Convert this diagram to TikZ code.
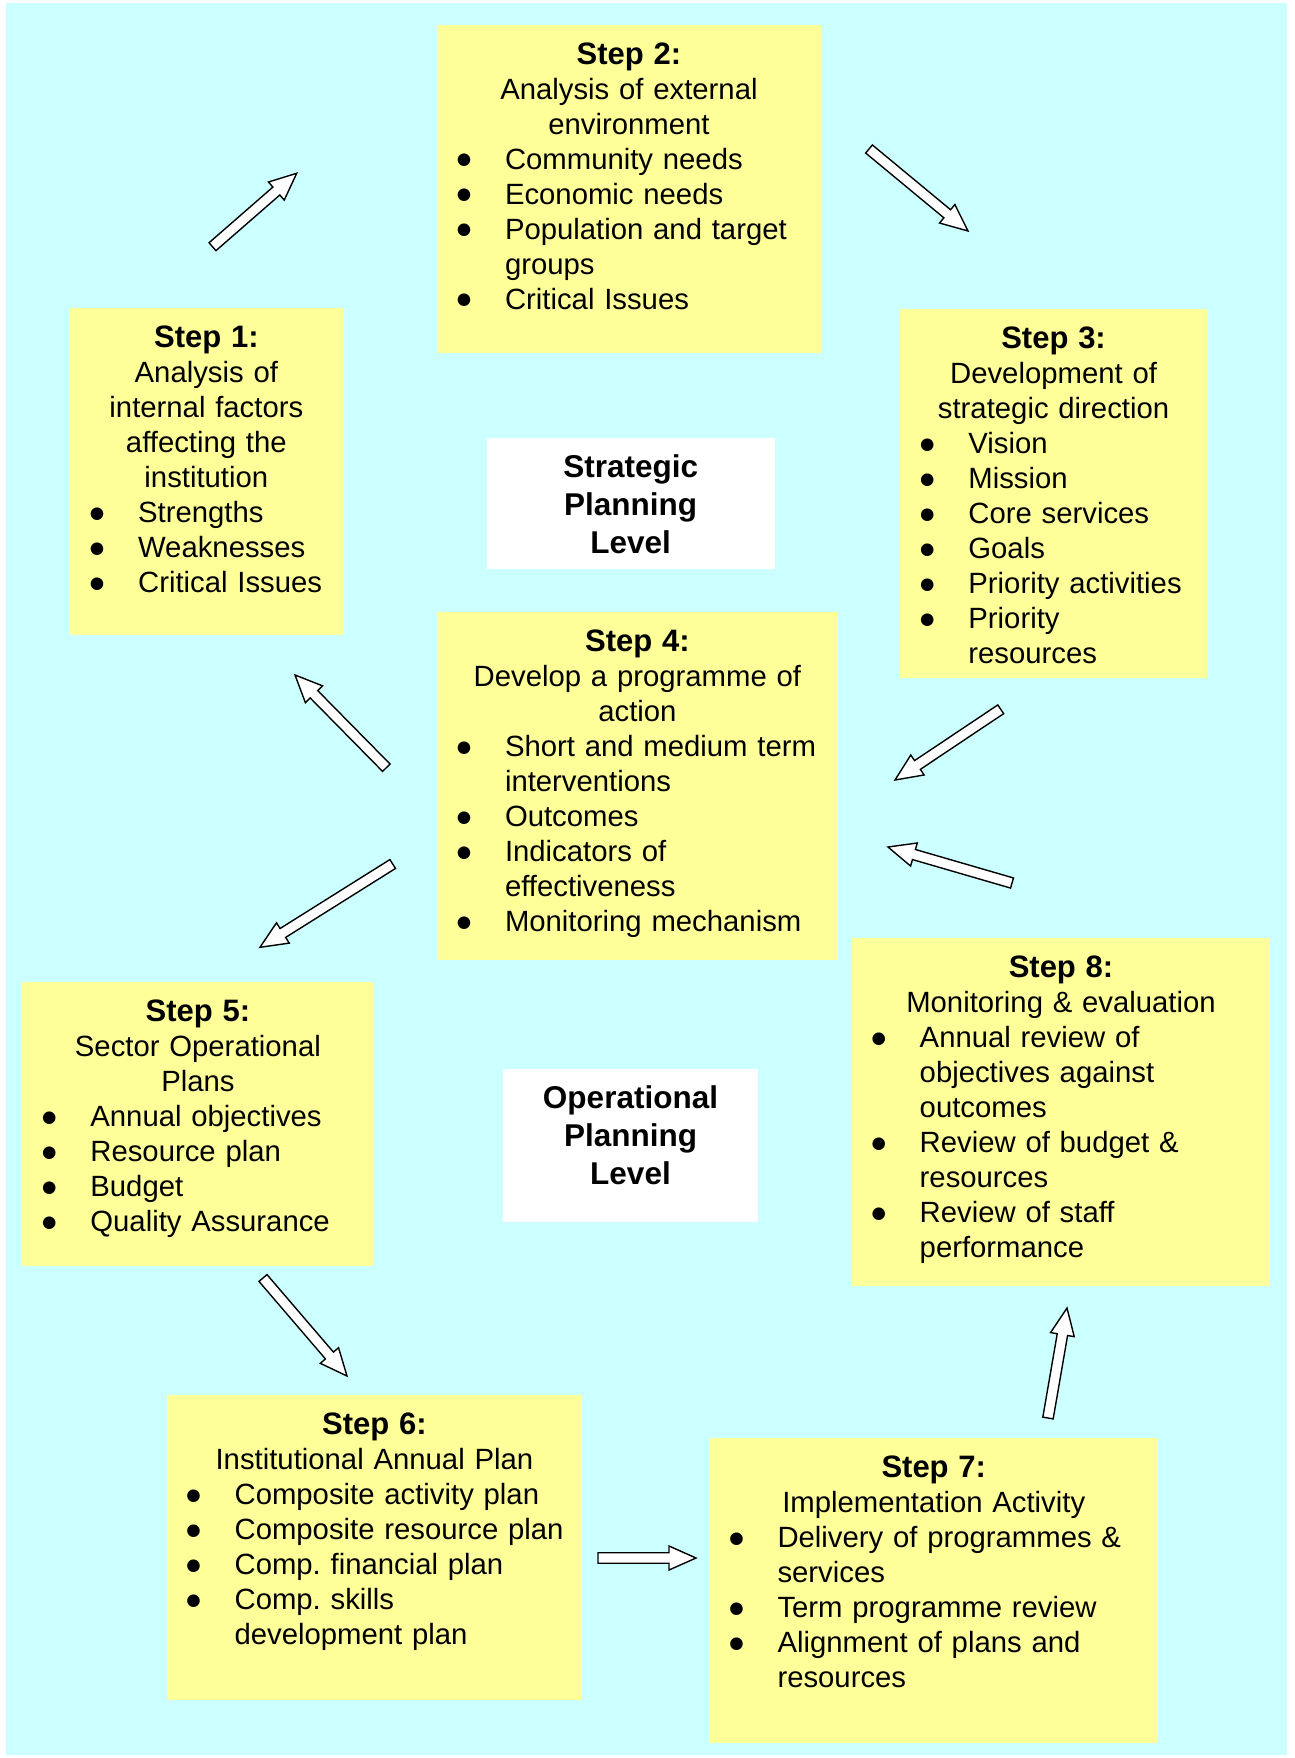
\documentclass[tikz,border=0pt]{standalone}
\usepackage{fontspec}
\setmainfont{Liberation Sans}
\newfontfamily\dejavu{DejaVu Sans}
\usetikzlibrary{calc}
\definecolor{bgcyan}{HTML}{CCFFFF}
\definecolor{boxyellow}{HTML}{FFFF99}
\newcommand\ctr[2]{\par\noindent\rule{0pt}{24pt}\makebox[#1pt][c]{#2}\par}
\newcommand\ttl[2]{\ctr{#1}{\fontsize{31}{35}\selectfont\bfseries #2}}
\newcommand\blt{{\dejavu\fontsize{16.5}{16.5}\selectfont ●}}
\newcommand\itm[1]{\par\noindent\rule{0pt}{24pt}\makebox[18pt][c]{\raisebox{4.2pt}{\blt}}\hspace*{32pt}#1\par}
\newcommand\cnt[1]{\par\noindent\rule{0pt}{24pt}\hspace*{50pt}#1\par}
\newcommand\blkarrow[3]{%
  \coordinate (#3n) at ($(#2)!27pt!(#1)$);
  \draw[blockarrow] ($(#1)!5.25pt!90:(#2)$) -- ($(#3n)!5.25pt!90:(#2)$)
    -- ($(#3n)!12pt!90:(#2)$) -- (#2) -- ($(#3n)!12pt!-90:(#2)$)
    -- ($(#3n)!5.25pt!-90:(#2)$) -- ($(#1)!5.25pt!-90:(#2)$) -- cycle;}
\tikzset{
  ybox/.style={fill=boxyellow, draw=none, inner sep=0pt, anchor=north west},
  wbox/.style={fill=white, draw=none, inner sep=0pt},
  wlabel/.style={inner sep=0pt, align=center,
    font=\fontsize{31.5}{38}\selectfont\bfseries},
  btext/.style={anchor=north west, inner sep=0pt, align=left,
    font=\fontsize{29.3}{35}\selectfont},
  blockarrow/.style={draw=black, fill=white, line width=1.4pt, line join=miter},
}
\begin{document}
\begin{tikzpicture}[x=1pt,y=-1pt]
\useasboundingbox (0,0) rectangle (1295,1758);
\fill[white] (0,0) rectangle (1295,1758);
\fill[bgcyan] (5.6,3.5) rectangle (1287,1755);

% boxes
\node[ybox, minimum width=272.5pt, minimum height=327pt] (s1) at (69.9,308) {};
\node[ybox, minimum width=383.9pt, minimum height=328pt] (s2) at (436.8,25) {};
\node[ybox, minimum width=306.3pt, minimum height=369pt] (s3) at (900.2,309) {};
\node[ybox, minimum width=400.8pt, minimum height=348pt] (s4) at (436.8,612) {};
\node[ybox, minimum width=351pt, minimum height=284pt] (s5) at (22.2,982) {};
\node[ybox, minimum width=415.6pt, minimum height=305pt] (s6) at (166.4,1395) {};
\node[ybox, minimum width=448.5pt, minimum height=305pt] (s7) at (709.3,1438) {};
\node[ybox, minimum width=418.6pt, minimum height=348pt] (s8) at (851.5,938) {};

\node[wbox, minimum width=288.3pt, minimum height=131pt] (strat) at (630.7,503.5) {};
\node[wlabel] (strattext) at (630.7,504.5) {Strategic\\Planning\\Level};
\node[wbox, minimum width=255.5pt, minimum height=153pt] (oper) at (630.5,1145.5) {};
\node[wlabel] (opertext) at (630.5,1135.5) {Operational\\Planning\\Level};

% texts
\node[btext, text width=252pt] (s1t) at (87.9,312) {%
  \ttl{236.5}{Step 1:}\ctr{236.5}{Analysis of}\ctr{236.5}{internal factors}\ctr{236.5}{affecting the}\ctr{236.5}{institution}%
  \itm{Strengths}\itm{Weaknesses}\itm{Critical Issues}};
\node[btext, text width=362pt] (s2t) at (454.8,29) {%
  \ttl{347.9}{Step 2:}\ctr{347.9}{Analysis of external}\ctr{347.9}{environment}%
  \itm{Community needs}\itm{Economic needs}\itm{Population and target}\cnt{groups}\itm{Critical Issues}};
\node[btext, text width=286pt] (s3t) at (918.2,313) {%
  \ttl{270.3}{Step 3:}\ctr{270.3}{Development of}\ctr{270.3}{strategic direction}%
  \itm{Vision}\itm{Mission}\itm{Core services}\itm{Goals}\itm{Priority activities}\itm{Priority}\cnt{resources}};
\node[btext, text width=380pt] (s4t) at (454.8,616) {%
  \ttl{364.8}{Step 4:}\ctr{364.8}{Develop a programme of}\ctr{364.8}{action}%
  \itm{Short and medium term}\cnt{interventions}\itm{Outcomes}\itm{Indicators of}\cnt{effectiveness}\itm{Monitoring mechanism}};
\node[btext, text width=330pt] (s5t) at (40.2,986) {%
  \ttl{315}{Step 5:}\ctr{315}{Sector Operational}\ctr{315}{Plans}%
  \itm{Annual objectives}\itm{Resource plan}\itm{Budget}\itm{Quality Assurance}};
\node[btext, text width=395pt] (s6t) at (184.4,1399) {%
  \ttl{379.6}{Step 6:}\ctr{379.6}{Institutional Annual Plan}%
  \itm{Composite activity plan}\itm{Composite resource plan}\itm{Comp.\ financial plan}\itm{Comp.\ skills}\cnt{development plan}};
\node[btext, text width=428pt] (s7t) at (727.3,1442) {%
  \ttl{412.5}{Step 7:}\ctr{412.5}{Implementation Activity}%
  \itm{Delivery of programmes \&}\cnt{services}\itm{Term programme review}\itm{Alignment of plans and}\cnt{resources}};
\node[btext, text width=398pt] (s8t) at (869.5,942) {%
  \ttl{382.6}{Step 8:}\ctr{382.6}{Monitoring \& evaluation}%
  \itm{Annual review of}\cnt{objectives against}\cnt{outcomes}\itm{Review of budget \&}\cnt{resources}\itm{Review of staff}\cnt{performance}};

% arrow end points
\coordinate (a12t) at (212.5,246.7); \coordinate (a12h) at (296.7,173.3);
\coordinate (a23t) at (869,149);     \coordinate (a23h) at (968,231);
\coordinate (a34t) at (1000.7,709.3);\coordinate (a34h) at (895,780);
\coordinate (a84t) at (1012,883);    \coordinate (a84h) at (888,847);
\coordinate (a41t) at (386.3,767.7); \coordinate (a41h) at (295,675);
\coordinate (a45t) at (392.7,864);   \coordinate (a45h) at (260,947.3);
\coordinate (a56t) at (263,1278);    \coordinate (a56h) at (347,1376);
\coordinate (a67t) at (598,1558);    \coordinate (a67h) at (696,1558);
\coordinate (a78t) at (1048,1418);   \coordinate (a78h) at (1067,1308);

\blkarrow{a12t}{a12h}{a12}
\blkarrow{a23t}{a23h}{a23}
\blkarrow{a34t}{a34h}{a34}
\blkarrow{a84t}{a84h}{a84}
\blkarrow{a41t}{a41h}{a41}
\blkarrow{a45t}{a45h}{a45}
\blkarrow{a56t}{a56h}{a56}
\blkarrow{a67t}{a67h}{a67}
\blkarrow{a78t}{a78h}{a78}
\end{tikzpicture}
\end{document}
